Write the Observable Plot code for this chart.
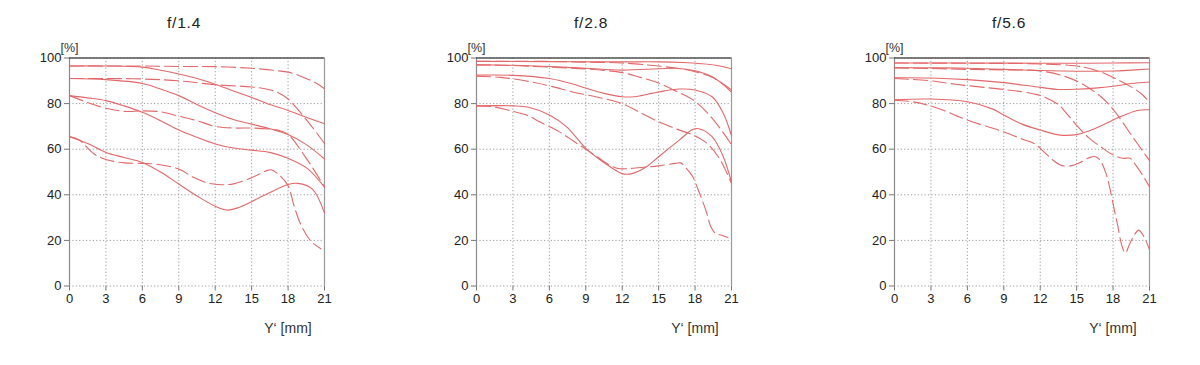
<!DOCTYPE html>
<html>
<head>
<meta charset="utf-8">
<script src="https://cdn.jsdelivr.net/npm/d3@7"></script>
<script src="https://cdn.jsdelivr.net/npm/@observablehq/plot@0.6"></script>
<style>
  html, body { margin: 0; padding: 0; background: #fff; }
  #root { position: relative; width: 1200px; height: 365px; overflow: hidden; font-family: "Liberation Sans", Arial, sans-serif; }
  .panel { position: absolute; top: 0; }
  .title { position: absolute; top: 14px; font-size: 15.5px; color: #222; transform: translateX(-50%); white-space: nowrap; letter-spacing: 0.8px; }
</style>
</head>
<body>
<div id="root"></div>
<script>
// ---- data (x = image height Y' in mm, y = MTF in %) ----
const titles = ["f/1.4", "f/2.8", "f/5.6"];
const xTicks = [0, 3, 6, 9, 12, 15, 18, 21];
const yTicks = [0, 20, 40, 60, 80, 100];
const yUnitLabel = "[%]";
const xUnitLabel = "Y\u2018 [mm]";

// f/1.4
const f14_S1 = [[0,96.5],[3,96.5],[6,96],[7.5,94.6],[9,93],[10.5,91],[12,88.5],[13.5,85.5],[15,82.7],[16.5,79.6],[18,77],[19.5,74],[21,71.2]];
const f14_D1 = [[0,96.5],[3,96.5],[6,96.5],[9,96.3],[12,96.2],[15,95.5],[17,94.5],[18.3,93.4],[19.5,91],[20.3,89],[21,86.5]];
const f14_S2 = [[0,91],[3,90.5],[6,88.8],[7.5,86.4],[9,83.5],[10.5,79.6],[12,76],[13.5,73],[15,71],[16.5,69],[18,66.4],[19.5,62],[21,55.7]];
const f14_D2 = [[0,91],[3,91],[6,90.8],[9,90],[12,88.3],[15,87.3],[16.3,86.3],[17.2,84.8],[18,82],[19.5,73],[21,62.5]];
const f14_S3 = [[0,83.5],[1.5,82.5],[3,81.3],[4.5,79],[6,76.2],[7.5,72.5],[9,68.4],[10.5,65.2],[12,62.3],[13.5,60.5],[15,59.6],[16.5,58.6],[18,56],[19.6,51.5],[21,43.3]];
const f14_D3 = [[0,83.5],[1.5,80.5],[3,78],[4.5,76.6],[6,76.8],[7.5,76.4],[9,74.5],[10.5,72.5],[12,70],[13.5,69.3],[15,69.3],[16.5,68.8],[17.4,68],[18,66.5],[19.5,56],[21,43.5]];
const f14_S4 = [[0,65.5],[1.5,62.5],[3,58.6],[4.5,56.4],[6,54.2],[7.5,50],[9,44.7],[10.5,39.5],[12,35],[13,33.3],[14,34.5],[15,37],[16.5,41],[18,44.5],[18.8,45],[20,42.5],[21,32]];
const f14_D4 = [[0,65.5],[0.8,64],[2,58],[3,55.5],[4.5,54],[6,53.8],[7.2,53.4],[9,51.3],[10.2,47.7],[11.5,45],[12.5,44.4],[13.5,44.8],[15,47.5],[16.2,50.5],[16.6,51],[17.2,49],[18,44],[18.5,35],[19,27.5],[19.5,22.5],[20,19],[20.7,16.3]];

// f/2.8
const f28_S1 = [[0,98.5],[6,98.4],[12,98.3],[15,98.3],[17,98],[18.5,97.5],[19.7,96.8],[21,95.3]];
const f28_D1 = [[0,98.6],[6,98.5],[9,98.2],[12,97.8],[14,97],[15,96.5],[16.5,95.5],[18,94],[19.5,91.3],[21,86]];
const f28_S2 = [[0,97],[3,96.8],[6,96.3],[9,95.5],[12,94.7],[15,95.3],[16.5,95.5],[18,94.4],[19.4,91.8],[20.3,88.5],[21,85]];
const f28_D2 = [[0,97],[3,96.7],[6,96],[9,95.2],[12,93.6],[13.5,91.5],[15,89],[16.5,85.3],[18,81],[19.5,73],[21,62]];
const f28_S3 = [[0,92.5],[3,92.4],[6,91],[8,88.5],[9,86.8],[10.5,84.5],[12,83],[13,83],[14.5,84.6],[15.5,85.6],[16.7,86.4],[18,86],[19.4,83],[20.3,76],[21,66]];
const f28_D3 = [[0,92],[2,91.5],[4,90],[6,87.8],[8,85],[10,82.8],[12,80],[13.5,76],[15,72],[16.5,68.8],[18,65.8],[19,62.5],[20,56],[21,45]];
const f28_S4 = [[0,79],[3,79],[4.3,78.4],[6,75],[7.4,69.9],[9,60.4],[10.4,54.5],[12,49.3],[12.8,49.3],[14,52.3],[15,56.7],[16.7,64],[17.8,68.6],[18.3,69],[19.4,65.5],[20.3,57],[21,45.5]];
const f28_D4 = [[0,79],[1.5,78.5],[2.7,77],[4.3,74.6],[5.2,72],[6.8,67.7],[8,63.5],[9,60],[10,56.5],[10.7,53.8],[11.7,51.5],[12.5,51.5],[14,52.2],[15,52.7],[16.4,53.8],[16.8,54],[17.3,51.5],[17.8,48],[18.2,43],[18.9,33],[19.3,26],[19.7,23],[20.2,22.3],[20.7,21.3]];

// f/5.6
const f56_S1 = [[0,97.8],[6,97.8],[12,97.7],[15,97.7],[18,97.8],[21,97.9]];
const f56_D1 = [[0,97.8],[6,97.7],[12,97.4],[15,96.5],[16,95.5],[17.4,93],[18.5,90.2],[19.6,87],[20.4,84],[21,80.5]];
const f56_S2 = [[0,95.8],[3,95.7],[6,95.5],[9,95],[12,94.5],[15,94.2],[18,94.3],[19.5,94.7],[21,95.2]];
const f56_D2 = [[0,95.6],[3,95.4],[6,95],[9,94.8],[12,94.3],[14,92],[15.5,88.5],[17,83],[18,77.5],[18.7,72.5],[19.4,67],[20,62.5],[20.6,58],[21,55]];
const f56_S3 = [[0,91.3],[3,91.2],[6,90.5],[9,89.2],[12,87.1],[13.5,86.2],[15,86.3],[16.5,86.8],[18,87.6],[19.5,88.8],[21,89.5]];
const f56_D3 = [[0,91],[3,90],[5,88.5],[7.6,87],[9.3,86],[10.5,85.2],[11.5,84.2],[12.3,83],[13.5,79.5],[14.2,75.5],[15,70.5],[16,65],[17,61],[18,57.5],[18.8,56],[19.4,56],[20,52],[20.5,48],[21,43.5]];
const f56_S4 = [[0,81.7],[3,82],[6,80.8],[8,77.8],[9,75],[10.5,71],[12,68.4],[13.5,66.3],[15,66.4],[16,68],[17.5,71.5],[18.5,74],[20,77],[21,77.3]];
const f56_D4 = [[0,81.5],[1.5,80.8],[2.7,79.4],[4.3,76.5],[5.4,74],[7,71],[8.5,68.5],[9.3,67],[10.5,64.5],[11.5,62.5],[12.4,58.4],[13,55.4],[13.8,52.8],[14.6,52.8],[15.3,54.2],[16,56.2],[16.5,56.8],[16.9,55.4],[17.4,49.6],[17.7,43.7],[18.1,33.5],[18.4,26],[18.7,18.2],[19,14.5],[19.4,18.9],[19.8,22.8],[20.1,24.5],[20.5,22],[21,16]];

const panelSeries = [
  [f14_S1, f14_D1, f14_S2, f14_D2, f14_S3, f14_D3, f14_S4, f14_D4],
  [f28_S1, f28_D1, f28_S2, f28_D2, f28_S3, f28_D3, f28_S4, f28_D4],
  [f56_S1, f56_D1, f56_S2, f56_D2, f56_S3, f56_D3, f56_S4, f56_D4]
];
const seriesDashed = [false, true, false, true, false, true, false, true];

// ---- layout ----
const svgLefts = [9, 416, 834];
const mL = 60, mR = 30, mT = 57.5, mB = 79.5;
const plotW = 255;
const lineColor = "#e3686a";

const root = document.getElementById("root");

panelSeries.forEach((series, i) => {
  const marks = [
    Plot.gridY(yTicks, {stroke: "#9a9a9a", strokeOpacity: 1, strokeDasharray: "1.2,2.2", strokeWidth: 1}),
    Plot.gridX(xTicks, {stroke: "#9a9a9a", strokeOpacity: 1, strokeDasharray: "1.2,2.2", strokeWidth: 1}),
    Plot.ruleX([xTicks[0]], {stroke: "#8a8a8a", strokeWidth: 1.2}),
    Plot.ruleX([xTicks[xTicks.length - 1]], {stroke: "#9a9a9a", strokeWidth: 1.2}),
    Plot.ruleY([yTicks[yTicks.length - 1]], {stroke: "#555", strokeWidth: 1.4}),
    Plot.axisY(yTicks, {tickSize: 5, tickPadding: 3, fontSize: 13, stroke: "#777", label: null, color: "#222"}),
    Plot.axisX(xTicks, {tickSize: 5, tickPadding: 3, fontSize: 13, stroke: "#777", label: null, color: "#222"}),
    Plot.text([yUnitLabel], {frameAnchor: "top-left", dy: -15, text: d => d, fontSize: 12.5, fill: "#333", textAnchor: "middle"}),
    Plot.text([xUnitLabel], {frameAnchor: "bottom-right", dx: -36.5, dy: 47, text: d => d, fontSize: 14, fill: "#333", textAnchor: "middle"})
  ];
  series.forEach((s, j) => {
    marks.push(Plot.line(s, {
      x: d => d[0], y: d => d[1],
      curve: "catmull-rom",
      stroke: lineColor, strokeWidth: 1.1,
      strokeDasharray: seriesDashed[j] ? "14,5" : null
    }));
  });
  const chart = Plot.plot({
    width: mL + plotW + mR,
    height: 365,
    marginLeft: mL, marginRight: mR, marginTop: mT, marginBottom: mB,
    style: {fontFamily: "'Liberation Sans', Arial, sans-serif", background: "transparent", overflow: "visible"},
    x: {domain: [0, 21], axis: null},
    y: {domain: [0, 100], axis: null},
    marks
  });
  const wrap = document.createElement("div");
  wrap.className = "panel";
  wrap.style.left = svgLefts[i] + "px";
  wrap.appendChild(chart);
  root.appendChild(wrap);

  const t = document.createElement("div");
  t.className = "title";
  t.textContent = titles[i];
  t.style.left = (svgLefts[i] + mL + 115) + "px";
  root.appendChild(t);
});
</script>
</body>
</html>
